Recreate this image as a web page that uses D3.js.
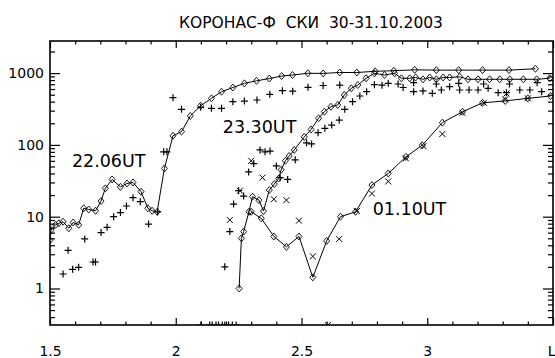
<!DOCTYPE html>
<html><head><meta charset="utf-8">
<script src="https://cdn.jsdelivr.net/npm/d3@7"></script>
<style>
html,body{margin:0;padding:0;background:#fff;}
svg{display:block;font-family:"DejaVu Sans",sans-serif;}
</style></head>
<body>
<script>
// ---------- data ----------
const title = "КОРОНАС-Ф  СКИ  30-31.10.2003";
const xTickValues = [1.5, 2, 2.5, 3, 3.5];
const xTickLabels = ["1.5", "2", "2.5", "3", "L"];
const yTickValues = [1, 10, 100, 1000];
const yTickLabels = ["1", "10", "100", "1000"];

// 22.06UT : diamonds + line
const l2206 = [1.50,1.504,1.522,1.535,1.552,1.575,1.592,1.614,1.634,1.654,1.681,1.703,1.720,1.747,1.780,1.806,1.830,1.862,1.889,1.906,1.926,1.955,1.989,2.023,2.058,2.099,2.142,2.182,2.227,2.273,2.321,2.372,2.421,2.464,2.525,2.586,2.652,2.720,2.793,2.867,2.950,3.036,3.125,3.220,3.325,3.430];
const v2206 = [4.7,6.5,7.7,8.1,8.5,6.9,8.3,7.7,13.1,12.6,12.1,16.5,24.8,33,26,29,30,22.3,13.1,12.1,11.7,47,134,153,253,351,445,550,630,720,780,840,910,940,995,990,1020,1020,1060,1080,1110,1100,1100,1100,1100,1150];
// 22.06UT : plus signs
const l2206p = [1.552,1.572,1.590,1.614,1.638,1.671,1.681,1.703,1.727,1.753,1.780,1.804,1.830,1.859,1.892,1.928,1.952,1.965,1.989,2.023,2.099,2.142,2.182,2.227,2.273,2.323,2.374,2.424,2.465,2.526,2.586,2.652,2.904,2.946,2.983,3.020,3.056,3.089,3.129,3.166,3.202,3.242,3.282,3.315,3.368,3.408,3.455];
const v2206p = [1.59,3.4,1.85,1.97,4.9,2.34,2.34,6.0,7.1,10,11.4,14.1,18.4,16.2,7.9,11.7,80,80,454,313,334,323,323,400,408,422,507,569,560,634,672,682,630,551,565,523,582,647,582,582,582,614,534,534,582,582,551];

// 23.30UT : diamonds + line
const l2330 = [2.252,2.261,2.270,2.291,2.305,2.331,2.349,2.372,2.392,2.409,2.419,2.436,2.451,2.471,2.511,2.538,2.568,2.591,2.617,2.644,2.670,2.698,2.724,2.757,2.790,2.830,2.870,2.897,2.930,2.954,2.983,3.010,3.036,3.063,3.089,3.129,3.162,3.202,3.248,3.288,3.328,3.382,3.435,3.487];
const v2330 = [1.0,5.0,6.2,11.7,19,17,12,23.5,28.5,34,45,60,70,85,129,164,235,290,340,360,495,614,682,847,993,942,993,847,847,870,820,870,820,870,870,890,820,820,820,820,820,820,820,847];
// 23.30UT : plus signs
const l2330p = [2.195,2.215,2.230,2.250,2.270,2.290,2.310,2.335,2.355,2.375,2.400,2.415,2.445,2.475,2.520,2.540,2.566,2.593,2.620,2.650,2.672,2.703,2.732,2.759,2.790,2.820,2.845,2.884,2.946,3.036,3.125,3.224,3.327,3.437];
const v2330p = [2.0,6.2,15,23,19.4,42,55,85,80,82,51,35,33,62,107,103,148,170,189,222,313,400,480,551,690,680,720,705,735,705,720,705,705,735];

// 01.10UT : diamonds + line
const l0110 = [2.300,2.340,2.390,2.440,2.490,2.545,2.600,2.655,2.715,2.780,2.845,2.915,2.980,3.060,3.140,3.220,3.310,3.400,3.490];
const v0110 = [11.7,9.5,5.3,3.8,5.3,1.43,4.6,10,11.7,27.6,40,68,99,204,289,385,410,445,480];
// 01.10UT : x crosses
const l0110x = [2.215,2.255,2.300,2.345,2.390,2.440,2.490,2.545,2.650,2.720,2.780,2.845,2.915,2.985,3.060,3.140,3.225,3.310,3.315,3.400];
const v0110x = [9.0,23,60,35,17.5,17,8.8,2.8,4.9,12,21,31,65,96,142,280,385,430,520,445];

// points below the plotted range (drawn on the lower axis)
const lowPlusL = [2.100,2.135,2.145,2.160,2.170,2.185,2.195,2.210,2.225,2.240];
const lowCrossL = [2.605];

// annotations
const labelText = ["22.06UT", "23.30UT", "01.10UT"];
const labelL = [1.587, 2.187, 2.783];
const labelV = [49.7, 148, 10.6];

// ---------- drawing ----------
const W = 555, H = 358;
const m = {left: 50, right: 2, top: 41, bottom: 33};
const svg = d3.select("body").append("svg").attr("width", W).attr("height", H);

const x = d3.scaleLinear().domain([1.5, 3.5]).range([m.left, W - m.right]);
const y = d3.scaleLog().domain([0.31, 2800]).range([H - m.bottom, m.top]);

svg.append("text")
  .attr("x", 311).attr("y", 28)
  .attr("text-anchor", "middle")
  .style("font-size", "15.5px")
  .style("white-space", "pre")
  .attr("fill", "#000")
  .text(title);

svg.append("clipPath").attr("id", "clip").append("rect")
  .attr("x", m.left).attr("y", m.top)
  .attr("width", W - m.right - m.left).attr("height", H - m.bottom - m.top);

const g = svg.append("g").attr("clip-path", "url(#clip)");

const line = d3.line().x(d => x(d[0])).y(d => y(d[1]));
const zip = (a, b) => a.map((v, i) => [v, b[i]]);

function drawLine(L, V) {
  g.append("path").datum(zip(L, V)).attr("d", line)
    .attr("fill", "none").attr("stroke", "#000").attr("stroke-width", 1);
}
function diamonds(L, V) {
  g.append("g").selectAll("path").data(zip(L, V)).join("path")
    .attr("d", d => {
      const cx = x(d[0]), cy = y(d[1]);
      return `M${cx},${cy-3.5}L${cx+3},${cy}L${cx},${cy+3.5}L${cx-3},${cy}Z`;
    })
    .attr("fill", "none").attr("stroke", "#000").attr("stroke-width", 0.9);
}
function pluses(L, V) {
  g.append("g").selectAll("path").data(zip(L, V)).join("path")
    .attr("d", d => {
      const cx = x(d[0]), cy = y(d[1]);
      return `M${cx-3.5},${cy}H${cx+3.5}M${cx},${cy-3.5}V${cy+3.5}`;
    })
    .attr("fill", "none").attr("stroke", "#000").attr("stroke-width", 1.2);
}
function crosses(L, V) {
  g.append("g").selectAll("path").data(zip(L, V)).join("path")
    .attr("d", d => {
      const cx = x(d[0]), cy = y(d[1]);
      return `M${cx-3},${cy-3}L${cx+3},${cy+3}M${cx-3},${cy+3}L${cx+3},${cy-3}`;
    })
    .attr("fill", "none").attr("stroke", "#000").attr("stroke-width", 1);
}

drawLine(l2206, v2206); diamonds(l2206, v2206); pluses(l2206p, v2206p);
drawLine(l2330, v2330); diamonds(l2330, v2330); pluses(l2330p, v2330p);
drawLine(l0110, v0110); diamonds(l0110, v0110); crosses(l0110x, v0110x);
const yMin = y.domain()[0];
pluses(lowPlusL, lowPlusL.map(() => yMin));
crosses(lowCrossL, lowCrossL.map(() => yMin));

// annotations
svg.append("g").selectAll("text").data(labelText).join("text")
  .attr("x", (d, i) => x(labelL[i]))
  .attr("y", (d, i) => y(labelV[i]))
  .style("font-size", "17.5px")
  .attr("fill", "#000")
  .text(d => d);

// ---------- axes ----------
const xMinor = d3.range(15, 36).map(v => v / 10).filter(v => !xTickValues.some(t => Math.abs(t - v) < 1e-9));
const yMinor = y.ticks().filter(v => !yTickValues.some(t => Math.abs(t - v) < 1e-9));
const x0 = m.left, x1 = W - m.right, y0 = H - m.bottom, y1 = m.top;

function styleAxis(sel) {
  sel.select(".domain").remove();
  sel.selectAll("line").attr("stroke", "#000").attr("stroke-width", 1.2);
  sel.selectAll("text").attr("fill", "#000").style("font-size", "14px").style("font-family", "DejaVu Sans, sans-serif");
}

// bottom
const bottomAxis = svg.append("g").attr("transform", `translate(0,${y0})`)
  .call(d3.axisBottom(x).tickValues(xTickValues).tickSize(-7).tickPadding(21)
    .tickFormat((d, i) => xTickLabels[i])).call(styleAxis);
bottomAxis.selectAll(".tick text").filter((d, i) => i === xTickValues.length - 1)
  .attr("text-anchor", "end").attr("dx", 2);
svg.append("g").attr("transform", `translate(0,${y0})`)
  .call(d3.axisBottom(x).tickValues(xMinor).tickSize(-3.5).tickFormat("")).call(styleAxis);
// top
svg.append("g").attr("transform", `translate(0,${y1})`)
  .call(d3.axisTop(x).tickValues(xTickValues).tickSize(-7).tickFormat("")).call(styleAxis);
svg.append("g").attr("transform", `translate(0,${y1})`)
  .call(d3.axisTop(x).tickValues(xMinor).tickSize(-3.5).tickFormat("")).call(styleAxis);
// left
svg.append("g").attr("transform", `translate(${x0},0)`)
  .call(d3.axisLeft(y).tickValues(yTickValues).tickSize(-10).tickPadding(6)
    .tickFormat((d, i) => yTickLabels[i])).call(styleAxis);
svg.append("g").attr("transform", `translate(${x0},0)`)
  .call(d3.axisLeft(y).tickValues(yMinor).tickSize(-5).tickFormat("")).call(styleAxis);
// right
svg.append("g").attr("transform", `translate(${x1},0)`)
  .call(d3.axisRight(y).tickValues(yTickValues).tickSize(-10).tickFormat("")).call(styleAxis);
svg.append("g").attr("transform", `translate(${x1},0)`)
  .call(d3.axisRight(y).tickValues(yMinor).tickSize(-5).tickFormat("")).call(styleAxis);

// frame
svg.append("rect").attr("x", x0).attr("y", y1).attr("width", x1 - x0).attr("height", y0 - y1)
  .attr("fill", "none").attr("stroke", "#000").attr("stroke-width", 1.6);
</script>
</body></html>
